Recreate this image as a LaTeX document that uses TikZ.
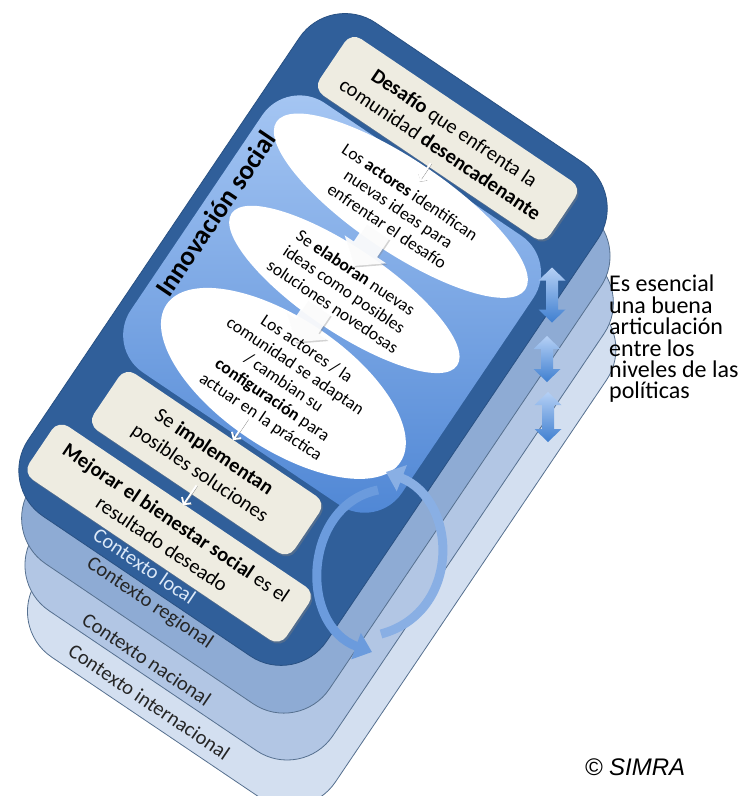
\documentclass[tikz,border=0pt]{standalone}
\usepackage{fontspec}
\setmainfont{Carlito}
\newfontfamily\simrafont{Liberation Sans}
\usetikzlibrary{shapes.geometric,arrows.meta,shadows}

\definecolor{ctxlocal}{HTML}{305F9A}
\definecolor{ctxregional}{HTML}{8EABD4}
\definecolor{ctxnacional}{HTML}{B2C6E4}
\definecolor{ctxinter}{HTML}{D3DFF0}
\definecolor{cardline}{HTML}{56708F}
\definecolor{paneltop}{HTML}{A8C8F4}
\definecolor{panelbot}{HTML}{4D85D4}
\definecolor{beige}{HTML}{EEECE1}
\definecolor{cyclecol}{HTML}{6B9BDD}
\definecolor{localtext}{HTML}{DCE9F8}
\definecolor{arrowlight}{HTML}{B5D0F5}
\definecolor{arrowdark}{HTML}{3F7FD0}

\tikzset{
  card/.style={draw=cardline, line width=0.8pt, rounded corners=55pt,
    minimum width=360pt, minimum height=595pt, inner sep=0pt},
  ctxlabel/.style={font=\fontsize{20.5}{24}\selectfont, text=black!85},
  idea/.style={ellipse, fill=white, inner sep=0pt},
  ideatext/.style={align=center, inner sep=0pt, font=\fontsize{17.5}{20.5}\selectfont},
  stepnote/.style={fill=beige, rounded corners=12pt, align=center, inner sep=0pt,
    font=\fontsize{20.5}{25.5}\selectfont,
    drop shadow={shadow xshift=1.5pt, shadow yshift=-2pt, opacity=.4}},
  thinarrow/.style={white, line width=1.8pt, -{Straight Barb[length=5pt, width=11pt]},
    preaction={draw=black!45, transform canvas={xshift=1pt, yshift=-1pt}}},
  cyclearrow/.style={cyclecol, line width=9pt, -{Triangle[length=17pt, width=27pt]}},
  pics/blockdown/.style={code={
    \fill[white, fill opacity=.92, drop shadow={shadow xshift=1pt, shadow yshift=-1.5pt, opacity=.35}]
      (-14,-22) -- (14,-22) -- (14,0) -- (25,0) -- (0,20) -- (-25,0) -- (-14,0) -- cycle;
  }},
  pics/artic/.style={code={
    \shade[top color=arrowlight, bottom color=arrowdark]
      (0,-#1/2) -- (13.5,-#1/2+13) -- (6,-#1/2+13) -- (6,#1/2-13) -- (13.5,#1/2-13)
      -- (0,#1/2) -- (-13.5,#1/2-13) -- (-6,#1/2-13) -- (-6,-#1/2+13) -- (-13.5,-#1/2+13) -- cycle;
  }},
}

\begin{document}
\begin{tikzpicture}[x=1pt, y=-1pt]
\useasboundingbox (0,0) rectangle (752,796);

\begin{scope}[shift={(310,335)}, rotate=-34, transform shape]
  \node (internacional) [card, fill=ctxinter] at (91,114) {};
  \node (nacional) [card, fill=ctxnacional] at (63,77) {};
  \node (regional) [card, fill=ctxregional] at (34,40) {};
  \node (local) [card, fill=ctxlocal, draw=ctxlocal!85!black] at (5,2) {};

  \node (lblinter) [ctxlabel] at (72,394) {Contexto internacional};
  \node (lblnac) [ctxlabel] at (46,360) {Contexto nacional};
  \node (lblreg) [ctxlabel] at (17,312) {Contexto regional};
  \node (lbllocal) [ctxlabel, text=localtext] at (-8,284) {Contexto local};

  \node (panel) [rounded corners=45pt, top color=paneltop, bottom color=panelbot,
    minimum width=327pt, minimum height=325pt] at (1,-38) {};

  \node (idea1) [idea, minimum width=300pt, minimum height=92pt] at (3,-158) {};
  \node (idea2) [idea, minimum width=272pt, minimum height=84pt] at (3,-57) {};
  \node (idea3) [idea, minimum width=282pt, minimum height=130pt] at (5,55) {};

  \pic (blk1) at (-2,-102) {blockdown};
  \pic (blk2) at (-8,-6) {blockdown};

  \node (idea1txt) [ideatext] at (3,-154) {Los \textbf{actores} identifican\\nuevas ideas para\\enfrentar el desafío};
  \node (idea2txt) [ideatext] at (3,-57) {Se \textbf{elaboran} nuevas\\ideas como posibles\\soluciones novedosas};
  \node (idea3txt) [ideatext] at (idea3) {Los actores / la\\comunidad se adaptan\\/ cambian su\\\textbf{configuración} para\\actuar en la práctica};

  \node (innov) [rotate=90, font=\bfseries\fontsize{27}{30}\selectfont] at (-146,-48) {Innovación social};

  \node (desafio) [stepnote, minimum width=278pt, minimum height=68pt] at (4,-240)
    {\textbf{Desafío} que enfrenta la\\comunidad \textbf{desencadenante}};
  \node (implementan) [stepnote, minimum width=242pt, minimum height=68pt] at (-14,164)
    {Se \textbf{implementan}\\posibles soluciones};
  \node (mejorar) [stepnote, minimum width=310pt, minimum height=64pt] at (-6,243)
    {\textbf{Mejorar el bienestar social} es el\\resultado deseado};

  \draw[thinarrow] (desafio.south) ++(0,-4) -- ++(0,22);
  \draw[thinarrow] (idea3.south) ++(-10,-16) -- ++(0,26);
  \draw[thinarrow] (implementan.south) ++(4,-10) -- ++(0,24);
\end{scope}

\pic (art1) at (552,295) {artic=55};
\pic (art2) at (547,359) {artic=46};
\pic (art3) at (548,417) {artic=50};

\coordinate (cycA) at (378,490);
\coordinate (cycB) at (372,652);
\coordinate (cycC) at (381,634);
\coordinate (cycD) at (386,472);
\draw[cyclearrow] (cycA) .. controls (303,505) and (298,625) .. (cycB);
\draw[cyclearrow, cyclecol!80!white] (cycC) .. controls (462,612) and (458,500) .. (cycD);

\node (nota) [anchor=north west, align=left, inner sep=0pt,
  font=\fontsize{24}{21.4}\selectfont] at (609,275)
  {Es esencial\\una buena\\articulación\\entre los\\niveles de las\\políticas};
\node (simra) at (635,767) {\simrafont\itshape\fontsize{24}{28}\selectfont © SIMRA};
\end{tikzpicture}
\end{document}
